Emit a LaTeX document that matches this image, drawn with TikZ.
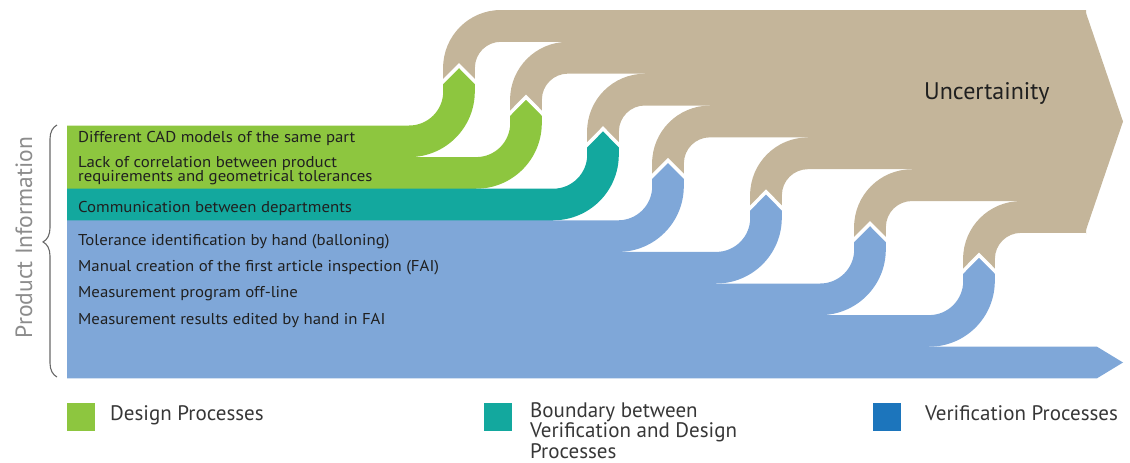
\documentclass[tikz,border=0pt]{standalone}
\usepackage{fontspec}
\setmainfont{PT Sans}
\newfontfamily\widesans[FakeStretch=1.07]{PT Sans}
\usetikzlibrary{decorations.pathreplacing}

\definecolor{designgreen}{RGB}{141,198,63}
\definecolor{boundteal}{RGB}{19,168,158}
\definecolor{verifblue}{RGB}{127,167,216}
\definecolor{legendblue}{RGB}{28,117,188}
\definecolor{flowtan}{RGB}{196,181,154}
\definecolor{txtdark}{RGB}{32,32,32}
\definecolor{legdark}{RGB}{55,55,55}
\definecolor{labelgray}{RGB}{140,140,140}
\definecolor{bracegray}{RGB}{105,105,105}

\begin{document}
\begin{tikzpicture}[x=1pt,y=-1pt,
  bandtext/.style={anchor=base west, inner sep=0pt, text=txtdark,
    font=\widesans\fontsize{15.7}{14.5}\selectfont, align=left},
  legtext/.style={anchor=base west, inner sep=0pt, text=legdark,
    font=\fontsize{21}{19}\selectfont, align=left},
  legbox/.style={anchor=north west, minimum size=28pt, inner sep=0pt, outer sep=0pt},
  chevron/.style={white, line width=3.5pt, line join=miter, line cap=butt}
]
\useasboundingbox (0,0) rectangle (1130,463);

% Uncertainty flows rising from each arrow and merging into one band
\foreach \xa/\xn [count=\k from 0] in {459/526,526/603,603/668,668/766,766/870,870/979,979/2000}{
  \pgfmathsetmacro\S{125.5+31.6*\k}
  \pgfmathsetmacro\L{10+31.85*\k}
  \pgfmathsetmacro\Xn{min(\xn+15.9+26,1086)}
  \fill[flowtan] (\xa-15.9,\S-44) -- (\xa,\S-60) -- (\xa+15.9,\S-44)
    -- (\xa+15.9,\L+31.8+26) arc[start angle=180,end angle=90,radius=26pt]
    -- (\Xn,\L+31.8) -- (\Xn,\L+33.3) -- (1086,\L+33.3) -- (1086,\L)
    -- (\xa+15.9+26,\L) arc[start angle=90,end angle=180,radius=57.8pt]
    -- cycle;
}
\fill[flowtan] (1084,10) -- (1085,10) -- (1123,121.5) -- (1085,232.95) -- (1084,232.95) -- cycle;

% Process bands turning upwards into arrows
\foreach \xa/\col [count=\j from 0] in {459/designgreen,526/designgreen,603/boundteal,
    668/verifblue,766/verifblue,870/verifblue,979/verifblue}{
  \pgfmathsetmacro\S{125.5+31.6*\j}
  \pgfmathsetmacro\cx{\xa-15.8-34}
  \fill[\col] (67,\S) -- (\cx,\S) arc[start angle=-90,end angle=0,radius=34pt]
    -- (\xa-15.8,\S-44) -- (\xa,\S-60) -- (\xa+15.8,\S-44) -- (\xa+15.8,\S-34)
    arc[start angle=0,end angle=-90,radius=65.6pt]
    -- (\cx,\S+32.6) -- (67,\S+32.6) -- cycle;
}
\fill[verifblue] (67,346.7) -- (1097,346.7) -- (1123,362.5) -- (1097,378.3) -- (67,378.3) -- cycle;

% White seams between arrow tips and the uncertainty flows
\foreach \xa [count=\j from 0] in {459,526,603,668,766,870,979}{
  \pgfmathsetmacro\S{125.5+31.6*\j}
  \draw[chevron] (\xa-18,\S-41.8) -- (\xa,\S-60) -- (\xa+18,\S-41.8);
}

% Labels inside the bands
\node[bandtext] (t1) at (78,142) {Different CAD models of the same part};
\node[bandtext] (t2) at (78,181.5) {Lack of correlation between product\\requirements and geometrical tolerances};
\node[bandtext] (t3) at (78,212) {Communication between departments};
\node[bandtext] (t4) at (78,245) {Tolerance identification by hand (balloning)};
\node[bandtext] (t5) at (78,271) {Manual creation of the first article inspection (FAI)};
\node[bandtext] (t6) at (78,297) {Measurement program off-line};
\node[bandtext] (t7) at (78,324) {Measurement results edited by hand in FAI};

\node[anchor=base west, inner sep=0pt, text=txtdark, font=\fontsize{24}{26}\selectfont]
  (unc) at (924,99) {Uncertainity};

% Brace and side label
\draw[bracegray, line width=1.1pt, decorate,
  decoration={brace, amplitude=14pt, aspect=0.536}] (57,377) -- (57,125);
\node[rotate=90, anchor=base, inner sep=0pt, text=labelgray,
  font=\fontsize{23.5}{26}\selectfont] (pinfo) at (32,237.5) {Product Information};

% Legend
\node[legbox, fill=designgreen] (k1) at (67,403) {};
\node[legtext] (l1) at (110,420.5) {Design Processes};
\node[legbox, fill=boundteal] (k2) at (484,403) {};
\node[legtext] (l2) at (530,458) {Boundary between\\Verification and Design\\Processes};
\node[legbox, fill=legendblue] (k3) at (873,403) {};
\node[legtext] (l3) at (925,420.5) {Verification Processes};
\end{tikzpicture}
\end{document}
